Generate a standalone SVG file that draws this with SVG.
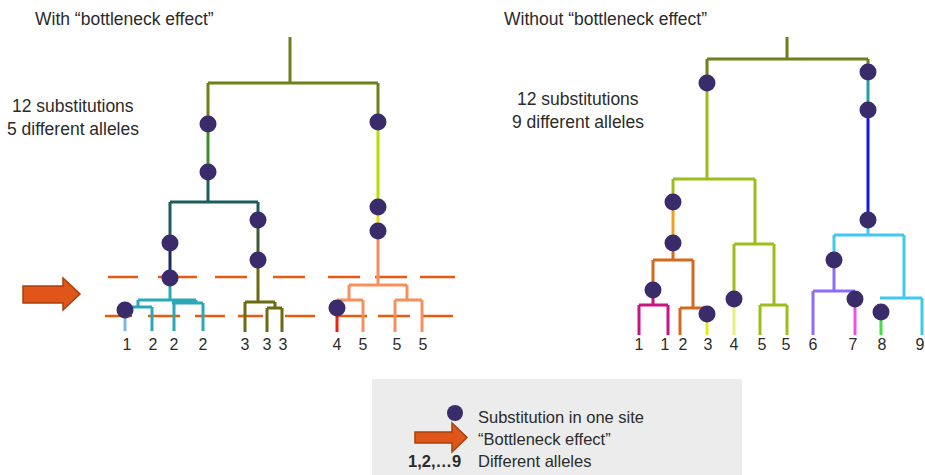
<svg xmlns="http://www.w3.org/2000/svg" width="925" height="475" viewBox="0 0 925 475">
<style>
  .t{font-family:"Liberation Sans",Arial,sans-serif;fill:#2b2b2b}
  .h{font-size:17.5px}
  .s{font-size:17.5px}
  .lf{font-size:16px;text-anchor:middle}
  .lg{font-size:16.5px}
  .b{fill:none;stroke-width:3;stroke-linecap:butt;stroke-linejoin:miter}
  .dash{fill:none;stroke:#E85A10;stroke-width:2.5}
  .dot{fill:#3A2C6B}
  .arr{fill:#E0561A;stroke:#A8400C;stroke-width:1.5}
</style>
<rect width="925" height="475" fill="#ffffff"/>

<g id="titles">
  <text class="t h" x="35" y="25">With “bottleneck effect”</text>
  <text class="t s" x="12" y="112">12 substitutions</text>
  <text class="t s" x="7" y="135">5 different alleles</text>
  <text class="t h" x="504" y="25">Without “bottleneck effect”</text>
  <text class="t s" x="517" y="105">12 substitutions</text>
  <text class="t s" x="512" y="128">9 different alleles</text>
</g>

<g id="bottleneck-lines">
  <path class="dash" d="M108 277H138M158 277H197M215 277H247M273 277H305M328 277H360M375 277H407M420 277H455"/>
  <path class="dash" d="M105 316H132M148 316H180M195 316H225M238 316H263M285 316H315M338 316H367M378 316H410M422 316H453"/>
</g>

<g id="connectors-left">
  <path class="b" stroke="#6E8019" d="M290 37V83M208 83H378M208 83V124M378 83V122"/>
  <path class="b" stroke="#3E8B2C" d="M208 124V172"/>
  <path class="b" stroke="#1D5C5C" d="M208 172V202M170 202H258M170 202V243M258 202V220"/>
  <path class="b" stroke="#1A2C5A" d="M170 243V277"/>
  <path class="b" stroke="#2AA8B8" d="M170 277V300M138 300H196M138 300V307M125 307H152M152 307V331M196 300V303M172 303H203M174 303V331M203 303V331"/>
  <path class="b" stroke="#79B8E8" d="M125 310V331"/>
  <path class="b" stroke="#3E5A30" d="M258 220V260"/>
  <path class="b" stroke="#6B6B12" d="M258 260V302M245 302H275M245 302V332M275 302V308M267 308H282M267 308V332M282 308V332"/>
  <path class="b" stroke="#B2E000" d="M378 122V207"/>
  <path class="b" stroke="#E8E000" d="M378 207V231"/>
  <path class="b" stroke="#F8905C" d="M378 231V285M349 285H407M349 285V300M337 300H363M363 300V332M407 285V300M395 300H422M395 300V332M422 300V332"/>
  <path class="b" stroke="#F02010" d="M337 308V332"/>
</g>

<g id="connectors-right">
  <path class="b" stroke="#6E8019" d="M787 37V59M707 59H868M707 59V83M868 59V72"/>
  <path class="b" stroke="#9BBE1A" d="M707 83V179M673 179H755M673 179V202M755 179V244M734 244H774M734 244V299M774 244V305M760 305H787M760 305V335M787 305V335"/>
  <path class="b" stroke="#F0A020" d="M673 202V243"/>
  <path class="b" stroke="#D2691E" d="M673 243V260M653 260H693M653 260V290M693 260V308M680 308H707M680 308V335"/>
  <path class="b" stroke="#C71585" d="M653 290V305M639 305H668M639 305V335M668 305V335"/>
  <path class="b" stroke="#E8E820" d="M707 314V335"/>
  <path class="b" stroke="#E4F07C" d="M734 299V335"/>
  <path class="b" stroke="#20A0A0" d="M868 72V110"/>
  <path class="b" stroke="#1515F5" d="M868 110V220"/>
  <path class="b" stroke="#40C8F0" d="M868 220V235M834 235H904M834 235V260M904 235V298M880 298H922M922 298V335"/>
  <path class="b" stroke="#8C6CF8" d="M834 260V291M813 291H855M813 291V335M855 291V299"/>
  <path class="b" stroke="#F050E8" d="M855 299V335"/>
  <path class="b" stroke="#40E040" d="M881 312V335"/>
</g>

<g id="substitutions-left">
  <circle class="dot" cx="208" cy="124" r="8.5"/>
  <circle class="dot" cx="208" cy="172" r="8.5"/>
  <circle class="dot" cx="170" cy="243" r="8.5"/>
  <circle class="dot" cx="170" cy="278" r="8.5"/>
  <circle class="dot" cx="125" cy="310" r="8.5"/>
  <circle class="dot" cx="258" cy="220" r="8.5"/>
  <circle class="dot" cx="258" cy="260" r="8.5"/>
  <circle class="dot" cx="378" cy="122" r="8.5"/>
  <circle class="dot" cx="378" cy="207" r="8.5"/>
  <circle class="dot" cx="378" cy="231" r="8.5"/>
  <circle class="dot" cx="337" cy="308" r="8.5"/>
</g>

<g id="substitutions-right">
  <circle class="dot" cx="707" cy="83" r="8.5"/>
  <circle class="dot" cx="868" cy="72" r="8.5"/>
  <circle class="dot" cx="868" cy="110" r="8.5"/>
  <circle class="dot" cx="868" cy="220" r="8.5"/>
  <circle class="dot" cx="673" cy="202" r="8.5"/>
  <circle class="dot" cx="673" cy="243" r="8.5"/>
  <circle class="dot" cx="653" cy="290" r="8.5"/>
  <circle class="dot" cx="707" cy="314" r="8.5"/>
  <circle class="dot" cx="734" cy="299" r="8.5"/>
  <circle class="dot" cx="834" cy="260" r="8.5"/>
  <circle class="dot" cx="855" cy="299" r="8.5"/>
  <circle class="dot" cx="881" cy="312" r="8.5"/>
</g>

<g id="leaf-labels">
  <text class="t lf" x="127" y="350">1</text>
  <text class="t lf" x="153" y="350">2</text>
  <text class="t lf" x="174" y="350">2</text>
  <text class="t lf" x="203" y="350">2</text>
  <text class="t lf" x="245" y="350">3</text>
  <text class="t lf" x="267" y="350">3</text>
  <text class="t lf" x="283" y="350">3</text>
  <text class="t lf" x="337" y="350">4</text>
  <text class="t lf" x="363" y="350">5</text>
  <text class="t lf" x="397" y="350">5</text>
  <text class="t lf" x="423" y="350">5</text>
  <text class="t lf" x="639" y="350">1</text>
  <text class="t lf" x="665" y="350">1</text>
  <text class="t lf" x="683" y="350">2</text>
  <text class="t lf" x="708" y="350">3</text>
  <text class="t lf" x="734" y="350">4</text>
  <text class="t lf" x="762" y="350">5</text>
  <text class="t lf" x="786" y="350">5</text>
  <text class="t lf" x="813" y="350">6</text>
  <text class="t lf" x="853" y="350">7</text>
  <text class="t lf" x="882" y="350">8</text>
  <text class="t lf" x="920" y="350">9</text>
</g>

<g id="bottleneck-arrow">
  <polygon class="arr" points="23,286 63,286 63,278 80,294 63,310 63,303 23,303"/>
</g>

<g id="legend">
  <rect x="372" y="379" width="370" height="96" fill="#ECECEC"/>
  <circle class="dot" cx="455" cy="413" r="8"/>
  <text class="t lg" x="478" y="423">Substitution in one site</text>
  <polygon class="arr" points="415,432 452,432 452,423 467,437.5 452,452 452,443 415,443"/>
  <text class="t lg" x="478" y="445">“Bottleneck effect”</text>
  <text class="t lg" x="408" y="467" font-weight="bold">1,2,…9</text>
  <text class="t lg" x="478" y="467">Different alleles</text>
</g>
</svg>
